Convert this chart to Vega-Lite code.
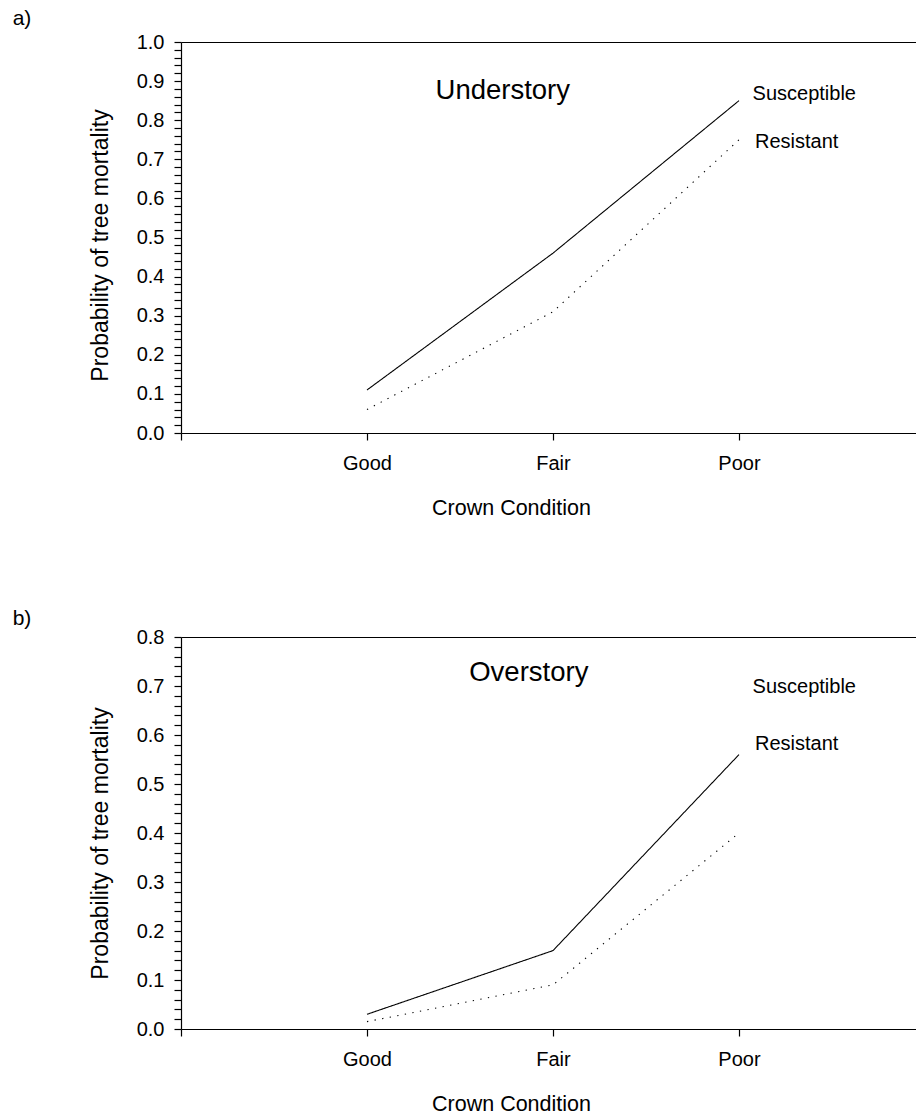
{
  "$schema": "https://vega.github.io/schema/vega-lite/v6.json",
  "background": "white",
  "padding": {"left": 12, "top": 8, "right": 0, "bottom": 0},
  "datasets": {
    "mortality": [
      {"stratum": "Understory", "crown": "Good", "level": 1, "group": "Susceptible", "p": 0.11},
      {"stratum": "Understory", "crown": "Fair", "level": 2, "group": "Susceptible", "p": 0.46},
      {"stratum": "Understory", "crown": "Poor", "level": 3, "group": "Susceptible", "p": 0.85},
      {"stratum": "Understory", "crown": "Good", "level": 1, "group": "Resistant", "p": 0.06},
      {"stratum": "Understory", "crown": "Fair", "level": 2, "group": "Resistant", "p": 0.31},
      {"stratum": "Understory", "crown": "Poor", "level": 3, "group": "Resistant", "p": 0.75},
      {"stratum": "Overstory", "crown": "Good", "level": 1, "group": "Susceptible", "p": 0.03},
      {"stratum": "Overstory", "crown": "Fair", "level": 2, "group": "Susceptible", "p": 0.16},
      {"stratum": "Overstory", "crown": "Poor", "level": 3, "group": "Susceptible", "p": 0.56},
      {"stratum": "Overstory", "crown": "Good", "level": 1, "group": "Resistant", "p": 0.015},
      {"stratum": "Overstory", "crown": "Fair", "level": 2, "group": "Resistant", "p": 0.09},
      {"stratum": "Overstory", "crown": "Poor", "level": 3, "group": "Resistant", "p": 0.40}
    ],
    "anchor": [{"label": true}]
  },
  "spacing": 88,
  "vconcat": [
    {
      "width": 736,
      "height": 391,
      "layer": [
        {
          "data": {"name": "mortality"},
          "transform": [{"filter": "datum.stratum === 'Understory'"}],
          "mark": {"type": "line", "color": "black", "strokeWidth": 1.1},
          "encoding": {
            "x": {
              "field": "level", "type": "quantitative",
              "scale": {"domain": [0, 3.957], "nice": false, "zero": false},
              "axis": {
                "values": [0, 1, 2, 3], "tickCount": 100,
                "labelExpr": "['', 'Good', 'Fair', 'Poor'][datum.value]",
                "tickSize": 7, "labelPadding": 13.5, "labelFontSize": 20,
                "title": "Crown Condition", "titleFontSize": 21.5, "titleFontWeight": "normal",
                "titleX": 330, "titleY": 81, "titleAlign": "center", "titleBaseline": "alphabetic",
                "grid": false
              }
            },
            "y": {
              "field": "p", "type": "quantitative",
              "scale": {"domain": [0, 1], "nice": false, "zero": false},
              "axis": {
                "values": [0, 0.02, 0.04, 0.06, 0.08, 0.1, 0.12, 0.14, 0.16, 0.18, 0.2, 0.22, 0.24, 0.26, 0.28, 0.3, 0.32, 0.34, 0.36, 0.38, 0.4, 0.42, 0.44, 0.46, 0.48, 0.5, 0.52, 0.54, 0.56, 0.58, 0.6, 0.62, 0.64, 0.66, 0.68, 0.7, 0.72, 0.74, 0.76, 0.78, 0.8, 0.82, 0.84, 0.86, 0.88, 0.9, 0.92, 0.94, 0.96, 0.98, 1.0],
                "tickCount": 100,
                "labelExpr": "abs(datum.value * 10 - round(datum.value * 10)) < 0.001 ? format(datum.value, '.1f') : ''",
                "tickSize": 7, "labelPadding": 10, "labelFontSize": 20, "labelOverlap": false,
                "title": "Probability of tree mortality", "titleFontSize": 23, "titleFontWeight": "normal",
                "titleX": -74, "titleY": 203, "titleAlign": "center", "titleBaseline": "alphabetic", "titleAngle": -90,
                "grid": false,
                "encode": {"ticks": {"update": {"x2": {"signal": "abs(datum.value * 10 - round(datum.value * 10)) < 0.001 ? -7 : 5"}}}}
              }
            },
            "detail": {"field": "group"},
            "strokeDash": {
              "field": "group", "type": "nominal",
              "scale": {"domain": ["Susceptible", "Resistant"], "range": [[1, 0], [1.3, 6.4]]},
              "legend": null
            }
          }
        },
        {
          "data": {"name": "anchor"},
          "mark": {"type": "text", "text": "Understory", "fontSize": 27.5, "align": "center", "baseline": "alphabetic"},
          "encoding": {
            "x": {"datum": 1.73, "type": "quantitative", "axis": {"orient": "top", "labels": false, "ticks": false, "title": null, "grid": false}},
            "y": {"datum": 0.855, "type": "quantitative"}
          }
        },
        {
          "data": {"name": "anchor"},
          "mark": {"type": "text", "text": "Susceptible", "fontSize": 20, "align": "left", "baseline": "alphabetic"},
          "encoding": {
            "x": {"datum": 3.073, "type": "quantitative", "axis": null},
            "y": {"datum": 0.851, "type": "quantitative"}
          }
        },
        {
          "data": {"name": "anchor"},
          "mark": {"type": "text", "text": "Resistant", "fontSize": 20, "align": "left", "baseline": "alphabetic"},
          "encoding": {
            "x": {"datum": 3.086, "type": "quantitative", "axis": null},
            "y": {"datum": 0.73, "type": "quantitative"}
          }
        },
        {
          "data": {"name": "anchor"},
          "mark": {"type": "text", "text": "a)", "fontSize": 21, "align": "left", "baseline": "alphabetic"},
          "encoding": {
            "x": {"datum": -0.905, "type": "quantitative", "axis": null},
            "y": {"datum": 1.043, "type": "quantitative"}
          }
        }
      ],
      "resolve": {"axis": {"x": "independent"}}
    },
    {
      "width": 736,
      "height": 392,
      "layer": [
        {
          "data": {"name": "mortality"},
          "transform": [{"filter": "datum.stratum === 'Overstory'"}],
          "mark": {"type": "line", "color": "black", "strokeWidth": 1.1},
          "encoding": {
            "x": {
              "field": "level", "type": "quantitative",
              "scale": {"domain": [0, 3.957], "nice": false, "zero": false},
              "axis": {
                "values": [0, 1, 2, 3], "tickCount": 100,
                "labelExpr": "['', 'Good', 'Fair', 'Poor'][datum.value]",
                "tickSize": 7, "labelPadding": 13.5, "labelFontSize": 20,
                "title": "Crown Condition", "titleFontSize": 21.5, "titleFontWeight": "normal",
                "titleX": 330, "titleY": 81, "titleAlign": "center", "titleBaseline": "alphabetic",
                "grid": false
              }
            },
            "y": {
              "field": "p", "type": "quantitative",
              "scale": {"domain": [0, 0.8], "nice": false, "zero": false},
              "axis": {
                "values": [0, 0.02, 0.04, 0.06, 0.08, 0.1, 0.12, 0.14, 0.16, 0.18, 0.2, 0.22, 0.24, 0.26, 0.28, 0.3, 0.32, 0.34, 0.36, 0.38, 0.4, 0.42, 0.44, 0.46, 0.48, 0.5, 0.52, 0.54, 0.56, 0.58, 0.6, 0.62, 0.64, 0.66, 0.68, 0.7, 0.72, 0.74, 0.76, 0.78, 0.8],
                "tickCount": 100,
                "labelExpr": "abs(datum.value * 10 - round(datum.value * 10)) < 0.001 ? format(datum.value, '.1f') : ''",
                "tickSize": 7, "labelPadding": 10, "labelFontSize": 20, "labelOverlap": false,
                "title": "Probability of tree mortality", "titleFontSize": 23, "titleFontWeight": "normal",
                "titleX": -74, "titleY": 206, "titleAlign": "center", "titleBaseline": "alphabetic", "titleAngle": -90,
                "grid": false,
                "encode": {"ticks": {"update": {"x2": {"signal": "abs(datum.value * 10 - round(datum.value * 10)) < 0.001 ? -7 : 5"}}}}
              }
            },
            "detail": {"field": "group"},
            "strokeDash": {
              "field": "group", "type": "nominal",
              "scale": {"domain": ["Susceptible", "Resistant"], "range": [[1, 0], [1.3, 6.4]]},
              "legend": null
            }
          }
        },
        {
          "data": {"name": "anchor"},
          "mark": {"type": "text", "text": "Overstory", "fontSize": 27.5, "align": "center", "baseline": "alphabetic"},
          "encoding": {
            "x": {"datum": 1.87, "type": "quantitative", "axis": {"orient": "top", "labels": false, "ticks": false, "title": null, "grid": false}},
            "y": {"datum": 0.71, "type": "quantitative"}
          }
        },
        {
          "data": {"name": "anchor"},
          "mark": {"type": "text", "text": "Susceptible", "fontSize": 20, "align": "left", "baseline": "alphabetic"},
          "encoding": {
            "x": {"datum": 3.073, "type": "quantitative", "axis": null},
            "y": {"datum": 0.686, "type": "quantitative"}
          }
        },
        {
          "data": {"name": "anchor"},
          "mark": {"type": "text", "text": "Resistant", "fontSize": 20, "align": "left", "baseline": "alphabetic"},
          "encoding": {
            "x": {"datum": 3.086, "type": "quantitative", "axis": null},
            "y": {"datum": 0.57, "type": "quantitative"}
          }
        },
        {
          "data": {"name": "anchor"},
          "mark": {"type": "text", "text": "b)", "fontSize": 21, "align": "left", "baseline": "alphabetic"},
          "encoding": {
            "x": {"datum": -0.905, "type": "quantitative", "axis": null},
            "y": {"datum": 0.825, "type": "quantitative"}
          }
        }
      ],
      "resolve": {"axis": {"x": "independent"}}
    }
  ],
  "config": {
    "font": "Liberation Sans",
    "view": {"stroke": null},
    "text": {"color": "black", "font": "Liberation Sans"},
    "axis": {
      "domainColor": "black", "domainWidth": 1.2,
      "tickColor": "black", "tickWidth": 1.2,
      "labelColor": "black", "titleColor": "black",
      "labelFont": "Liberation Sans", "titleFont": "Liberation Sans"
    }
  }
}
